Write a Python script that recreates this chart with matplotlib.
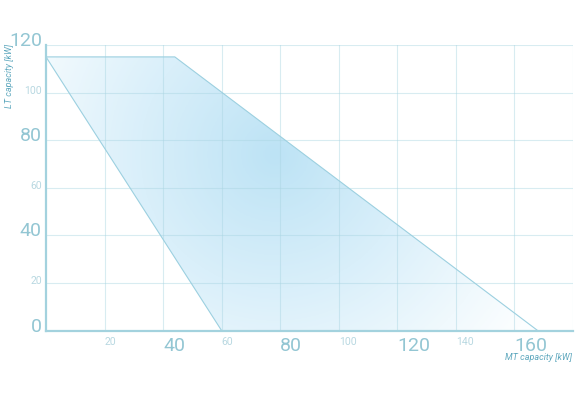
import numpy as np
import matplotlib
matplotlib.use("Agg")
import matplotlib.pyplot as plt
from matplotlib.colors import LinearSegmentedColormap
from matplotlib.patches import Polygon

# Data: operating envelope (MT capacity vs LT capacity, kW)
mt_capacity = [0, 44, 168, 60]
lt_capacity = [115, 115, 0, 0]

x_ticks = [20, 40, 60, 80, 100, 120, 140, 160]
x_labels = ["20", "40", "60", "80", "100", "120", "140", "160"]
y_ticks = [0, 20, 40, 60, 80, 100, 120]
y_labels = ["0", "20", "40", "60", "80", "100", "120"]
major_labels = {"0", "40", "80", "120", "160"}

plt.rcParams['font.family'] = ['Roboto', 'DejaVu Sans']

W, H = 575, 406
fig = plt.figure(figsize=(W / 100, H / 100), dpi=100)
left, right, top, bottom = 46, 573, 46, 331.7
ax = fig.add_axes([left / W, (H - bottom) / H, (right - left) / W, (bottom - top) / H])
ax.set_xlim(0, 180)
ax.set_ylim(0, 120)

# radial gradient fill clipped to polygon
xs = np.linspace(0, 180, 400)
ys = np.linspace(0, 120, 300)
X, Y = np.meshgrid(xs, ys)
px = X * (right - left) / 180
py = Y * (bottom - top) / 120
cx, cy = (275 - left), (bottom - 155)
r = np.sqrt((px - cx) ** 2 + (py - cy) ** 2)
val = np.clip(r / 300, 0, 1)
cmap = LinearSegmentedColormap.from_list(
    "g", [(0, "#bde3f5"), (0.45, "#d9effa"), (0.8, "#f0f9fd"), (1, "#fcfeff")])
im = ax.imshow(val, extent=(0, 180, 0, 120), origin="lower", cmap=cmap,
               vmin=0, vmax=1, aspect="auto", zorder=1, interpolation="bilinear")
poly = Polygon(list(zip(mt_capacity, lt_capacity)), closed=True,
               facecolor="none", edgecolor="#9cd0e0", linewidth=0.8, zorder=3)
ax.add_patch(poly)
im.set_clip_path(poly)

# grid
ax.set_xticks(x_ticks + [180])
ax.set_xticklabels(x_labels + [""])
ax.set_yticks(y_ticks)
ax.set_yticklabels(y_labels)
ax.grid(True, color="#a9d5e2", alpha=0.45, linewidth=0.8, zorder=2)
ax.set_axisbelow(False)
for gl in ax.get_xgridlines() + ax.get_ygridlines():
    gl.set_zorder(2)

for s in ["top", "right"]:
    ax.spines[s].set_visible(False)
for s in ["left", "bottom"]:
    ax.spines[s].set_color("#a3d2de")
    ax.spines[s].set_linewidth(1.6)
    ax.spines[s].set_zorder(4)

ax.tick_params(axis="both", length=0)
ax.tick_params(axis="x", pad=4)
ax.tick_params(axis="y", pad=3)

for lab in list(ax.get_xticklabels()) + list(ax.get_yticklabels()):
    if lab.get_text() in major_labels:
        lab.set_fontsize(14)
        lab.set_color("#93c6d3")
    else:
        lab.set_fontsize(7.5)
        lab.set_color("#b8d8e1")
    lab.set_fontweight("normal")
for lab in ax.get_xticklabels():
    lab.set_ha("left")
    lab.set_va("top")
for lab in ax.get_yticklabels():
    lab.set_va("baseline")

fig.text(10 / W, 1 - 76 / H, "LT capacity [kW]", rotation=90, ha="center", va="center",
         fontsize=6.5, style="italic", color="#5fa8be")
fig.text(572 / W, 1 - 358 / H, "MT capacity [kW]", ha="right", va="center",
         fontsize=6.5, style="italic", color="#5fa8be")

fig.savefig("out.png", dpi=100)
